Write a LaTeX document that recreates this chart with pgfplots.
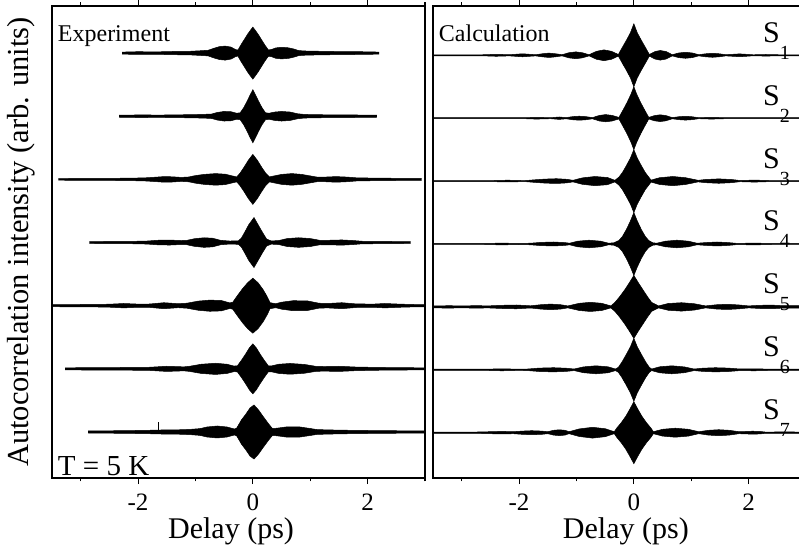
\documentclass[border=0pt]{standalone}
\usepackage{pgfplots}
\pgfplotsset{compat=1.18}
\usepackage{pgfplotstable}
\usepgfplotslibrary{fillbetween}
\usepackage{fontspec}
\setmainfont{Liberation Serif}

% Experiment traces: x (ps), a = half-height of the envelope (px)
\pgfplotstableread{
x a
-2.28 1.0
-2.0 1.4
-1.7 1.2
-1.4 1.6
-1.1 1.8
-0.9 2.4
-0.78 2.8
-0.68 4.8
-0.58 6.5
-0.48 7.0
-0.38 6.0
-0.3 3.5
-0.26 3.0
-0.21 8
-0.15 13.5
-0.09 19
-0.04 23
0.0 26
0.04 23
0.09 19
0.15 13.5
0.21 8
0.27 3.2
0.32 3.5
0.4 5.2
0.5 5.8
0.62 5.3
0.72 4.0
0.8 2.5
0.95 2.0
1.2 1.8
1.5 1.5
1.8 1.4
2.0 1.3
2.2 1.0
}\eA
\pgfplotstableread{
x a
-2.33 1.0
-2.0 1.3
-1.6 1.2
-1.2 1.5
-0.9 1.8
-0.72 2.2
-0.62 3.8
-0.5 4.8
-0.38 4.5
-0.28 3.0
-0.22 3.5
-0.16 8.5
-0.1 15
-0.05 21
0.0 26.5
0.05 21
0.1 15
0.16 8.5
0.22 3.5
0.28 3.0
0.38 4.2
0.5 4.8
0.65 4.2
0.78 2.5
0.9 1.8
1.2 1.5
1.6 1.3
2.0 1.2
2.16 1.0
}\eB
\pgfplotstableread{
x a
-3.39 0.8
-3.0 1.0
-2.6 1.0
-2.2 1.2
-1.9 1.5
-1.75 2.0
-1.55 2.8
-1.4 2.6
-1.25 2.0
-1.12 2.4
-1.0 3.8
-0.85 5.0
-0.65 5.8
-0.48 5.2
-0.36 3.5
-0.28 2.5
-0.22 6.5
-0.15 12.5
-0.08 19
0.0 25
0.08 19
0.15 12.5
0.22 6.5
0.29 2.5
0.38 3.6
0.5 5.0
0.68 5.8
0.85 5.0
1.0 3.5
1.12 2.3
1.25 2.3
1.45 2.8
1.65 2.3
1.8 1.6
2.1 1.3
2.5 1.1
2.94 0.9
}\eC
\pgfplotstableread{
x a
-2.85 0.9
-2.5 1.1
-2.1 1.2
-1.85 1.5
-1.65 2.3
-1.45 2.5
-1.25 2.0
-1.15 2.2
-1.02 3.8
-0.85 4.8
-0.7 4.3
-0.56 2.2
-0.4 1.5
-0.25 1.8
-0.2 4.5
-0.14 10.5
-0.07 18
0.02 25
0.1 17
0.17 10
0.24 3.5
0.32 1.6
0.45 2.0
0.6 4.0
0.8 4.8
1.0 4.0
1.17 2.2
1.35 2.3
1.55 2.6
1.75 2.0
1.9 1.3
2.3 1.1
2.75 0.9
}\eD
\pgfplotstableread{
x a
-3.5 1.0
-3.0 1.2
-2.7 1.3
-2.5 1.5
-2.25 2.2
-2.0 1.6
-1.8 1.7
-1.55 3.0
-1.3 2.0
-1.15 2.5
-0.95 4.6
-0.75 5.6
-0.55 5.2
-0.4 2.8
-0.35 3.5
-0.27 10
-0.18 17
-0.09 23
0.0 27.5
0.09 23
0.18 16
0.25 9
0.3 3.0
0.4 2.0
0.5 3.5
0.7 5.0
0.95 4.8
1.15 2.5
1.3 2.2
1.55 3.0
1.8 1.8
2.1 1.6
2.3 2.2
2.55 1.6
2.8 1.2
3.0 1.1
}\eE
\pgfplotstableread{
x a
-3.27 1.0
-2.9 1.2
-2.5 1.3
-2.1 1.4
-1.8 1.6
-1.5 2.6
-1.2 2.0
-1.1 2.6
-0.9 4.6
-0.65 5.6
-0.45 4.6
-0.33 2.8
-0.27 3.0
-0.2 8.5
-0.13 14.5
-0.06 21
0.0 25
0.06 21
0.13 14.5
0.2 8.5
0.27 3.0
0.33 3.0
0.45 4.6
0.65 5.4
0.9 4.4
1.1 2.5
1.25 2.3
1.5 2.6
1.8 1.8
2.2 1.4
2.6 1.2
3.0 1.0
}\eF
\pgfplotstableread{
x a
-2.87 1.0
-2.5 1.2
-2.2 1.4
-1.9 1.6
-1.6 2.0
-1.3 2.2
-1.1 2.6
-0.92 3.4
-0.8 5.0
-0.62 6.0
-0.45 5.0
-0.32 3.0
-0.28 4.0
-0.2 12
-0.12 18
-0.05 24
0.02 27
0.1 22
0.18 15.5
0.27 8.5
0.34 3.5
0.42 3.8
0.6 5.2
0.8 5.2
1.0 3.5
1.12 2.4
1.4 2.0
1.8 1.6
2.2 1.4
2.6 1.2
3.0 1.0
}\eG

% Calculation traces
\pgfplotstableread{
x a
-3.5 0.5
-2.65 0.5
-2.4 1.0
-2.17 0.6
-1.94 1.5
-1.71 0.6
-1.6 1.5
-1.48 2.2
-1.36 1.5
-1.25 0.6
-1.13 2.6
-1.01 3.4
-0.9 2.6
-0.78 0.6
-0.65 4.0
-0.52 5.4
-0.39 4.0
-0.27 0.8
-0.2 8
-0.13 15
-0.06 22.5
0.0 31.5
0.06 22.5
0.13 15
0.2 8
0.27 0.8
0.37 3.8
0.46 4.8
0.56 3.8
0.67 0.6
0.78 2.3
0.9 3.0
1.02 2.3
1.13 0.6
1.25 1.5
1.37 2.0
1.49 1.5
1.6 0.6
1.72 1.0
1.84 1.4
1.96 1.0
2.08 0.5
2.3 0.8
2.55 0.5
3.0 0.5
}\cA
\pgfplotstableread{
x a
-3.5 0.5
-1.9 0.5
-1.7 0.9
-1.45 0.5
-1.3 1.2
-1.18 0.6
-1.06 1.6
-0.95 2.0
-0.84 1.6
-0.72 0.6
-0.6 2.8
-0.49 3.6
-0.38 2.8
-0.26 0.8
-0.19 8
-0.12 15.5
-0.05 24
0.0 31.5
0.05 24
0.12 15.5
0.19 8
0.26 0.8
0.36 2.6
0.46 3.4
0.56 2.6
0.67 0.6
0.79 1.5
0.9 1.9
1.01 1.5
1.13 0.5
1.35 0.9
1.6 0.5
3.0 0.5
}\cB
\pgfplotstableread{
x a
-3.5 0.5
-2.5 0.5
-2.2 0.9
-1.9 0.5
-1.75 1.2
-1.55 2.0
-1.35 2.4
-1.17 1.8
-1.06 0.8
-0.9 3.2
-0.68 4.6
-0.46 3.6
-0.33 0.8
-0.26 4.0
-0.2 8.5
-0.13 15.5
-0.06 23
0.0 31.5
0.06 23
0.13 15.5
0.2 8.5
0.26 4.0
0.3 1.0
0.45 3.4
0.68 4.6
0.9 3.4
1.12 0.8
1.25 1.6
1.48 2.2
1.7 1.6
1.85 0.6
2.1 1.0
2.4 0.5
3.0 0.5
}\cC
\pgfplotstableread{
x a
-3.5 0.5
-2.6 0.5
-2.3 0.9
-2.0 0.5
-1.8 0.8
-1.62 1.6
-1.4 2.0
-1.2 1.4
-1.12 0.8
-0.98 2.8
-0.78 3.8
-0.58 2.8
-0.44 0.8
-0.35 1.2
-0.26 3.5
-0.2 7.5
-0.13 14.5
-0.06 23
0.0 31.5
0.06 23
0.13 14.5
0.2 7.5
0.26 3.5
0.33 1.2
0.4 0.8
0.55 2.8
0.75 3.8
0.95 2.8
1.1 0.8
1.25 1.4
1.45 2.0
1.65 1.4
1.8 0.6
2.1 0.9
2.4 0.5
3.0 0.5
}\cD
\pgfplotstableread{
x a
-3.5 1.0
-3.2 1.2
-3.0 0.9
-2.75 1.3
-2.55 1.0
-2.3 1.6
-2.05 1.9
-1.8 1.1
-1.62 2.2
-1.45 2.8
-1.28 2.2
-1.15 1.0
-0.95 3.6
-0.76 4.6
-0.56 3.6
-0.4 1.0
-0.33 4.5
-0.25 10
-0.16 17
-0.08 24
0.0 31.5
0.08 24
0.16 17
0.24 10
0.31 4.5
0.43 1.0
0.6 3.4
0.83 4.2
1.05 3.2
1.25 1.0
1.45 2.2
1.63 2.6
1.82 2.0
2.0 1.0
2.2 1.6
2.4 1.8
2.6 1.2
2.85 1.3
3.0 1.0
}\cE
\pgfplotstableread{
x a
-3.5 0.6
-2.6 0.6
-2.3 1.0
-2.0 0.6
-1.85 0.8
-1.65 1.7
-1.4 2.1
-1.18 1.6
-1.04 0.8
-0.88 2.9
-0.66 4.0
-0.45 3.0
-0.32 0.8
-0.27 2.5
-0.21 7.5
-0.14 14.5
-0.06 23
0.0 31.5
0.06 23
0.14 14.5
0.21 7.5
0.27 2.5
0.31 0.8
0.45 3.0
0.66 4.0
0.88 2.9
1.05 0.8
1.2 1.6
1.42 2.1
1.65 1.7
1.85 0.8
2.1 1.0
2.4 0.6
3.0 0.6
}\cF
\pgfplotstableread{
x a
-3.5 0.6
-2.8 0.6
-2.5 1.0
-2.3 1.3
-2.1 1.0
-1.95 1.6
-1.78 2.0
-1.6 1.6
-1.5 1.0
-1.4 2.4
-1.3 2.9
-1.2 2.4
-1.13 1.0
-0.95 3.8
-0.72 5.4
-0.5 4.0
-0.34 1.0
-0.3 4.5
-0.22 10
-0.14 16.5
-0.07 23.5
0.0 31
0.07 23.5
0.14 16.5
0.22 10
0.3 4.5
0.34 1.0
0.5 3.4
0.72 4.5
0.95 3.4
1.13 1.0
1.3 2.4
1.48 3.0
1.66 2.4
1.83 1.0
1.95 1.2
2.07 1.5
2.2 1.2
2.3 0.6
2.6 0.8
3.0 0.6
}\cG

\newcommand{\trace}[3]{%
  \addplot[draw=black, line width=0.5bp, name path=#3u] table[x=x, y expr=#2+\thisrow{a}]{#1};
  \addplot[draw=black, line width=0.5bp, name path=#3l] table[x=x, y expr=#2-\thisrow{a}]{#1};
  \addplot[black, draw=none] fill between[of=#3u and #3l];
}
\newcommand{\Slab}[2]{%
  \node[anchor=base west, inner sep=0pt, font=\fontsize{30bp}{30bp}\selectfont]
    at (axis cs:2.25,#1+13) {S\raisebox{-17bp}{\fontsize{20bp}{20bp}\selectfont #2}};%
}

\pgfplotsset{panel/.style={
  scale only axis, width=373bp, height=472bp,
  xmin=-3.5, xmax=3, ymin=0, ymax=472,
  xtick={-2,0,2}, xticklabels={-2,0,2}, minor xtick={-3,-1,1,3},
  ytick=\empty,
  minor ytick={14.425,46,77.575,109.15,140.725,172.3,203.875,235.45,267.025,298.6,330.175,361.75,393.325,424.9,456.475},
  tick align=outside,
  major tick length=6bp, minor tick length=3.5bp,
  axis line style={line width=1.4bp},
  every tick/.style={black, line width=1.1bp},
  xticklabel style={font=\fontsize{25bp}{25bp}\selectfont, inner sep=1bp, yshift=-9bp},
  xlabel={Delay (ps)},
  xlabel style={font=\fontsize{30bp}{30bp}\selectfont, anchor=base, inner sep=1bp, yshift=-60bp},
}}

\begin{document}
\begin{tikzpicture}
\begin{axis}[panel, at={(52bp,76bp)}, anchor=south west,
  xlabel style={at={(axis description cs:0.48,0)}},
  ylabel={Autocorrelation intensity (arb. units)},
  ylabel style={font=\fontsize{30.5bp}{30.5bp}\selectfont, at={(axis description cs:-0.083,0.5)}, anchor=center, rotate=0},
]
\trace{\eA}{424.9}{ea}
\trace{\eB}{361.75}{eb}
\trace{\eC}{298.6}{ec}
\trace{\eD}{235.45}{ed}
\trace{\eE}{172.3}{ee}
\trace{\eF}{109.15}{ef}
\trace{\eG}{46}{eg}
\addplot[black, line width=0.8bp] coordinates {(-1.65,46) (-1.65,56)};
\node[anchor=base west, inner sep=0pt, font=\fontsize{24bp}{24bp}\selectfont] at (axis cs:-3.4,436) {Experiment};
\node[anchor=base west, inner sep=0pt, font=\fontsize{29bp}{29bp}\selectfont] at (axis cs:-3.4,2.5) {T = 5 K};
\end{axis}
\begin{axis}[panel, at={(433bp,76bp)}, anchor=south west,
  xlabel style={at={(axis description cs:0.517,0)}},
]
\trace{\cA}{422.7}{ca}
\trace{\cB}{359.8}{cb}
\trace{\cC}{296.9}{cc}
\trace{\cD}{234}{cd}
\trace{\cE}{171.1}{ce}
\trace{\cF}{108.2}{cf}
\trace{\cG}{45.3}{cg}
\node[anchor=base west, inner sep=0pt, font=\fontsize{24bp}{24bp}\selectfont] at (axis cs:-3.4,436) {Calculation};
\Slab{422.7}{1}
\Slab{359.8}{2}
\Slab{296.9}{3}
\Slab{234}{4}
\Slab{171.1}{5}
\Slab{108.2}{6}
\Slab{45.3}{7}
\end{axis}
\pgfresetboundingbox
\path[use as bounding box] (0,0) rectangle (799bp,554bp);
\end{tikzpicture}
\end{document}
